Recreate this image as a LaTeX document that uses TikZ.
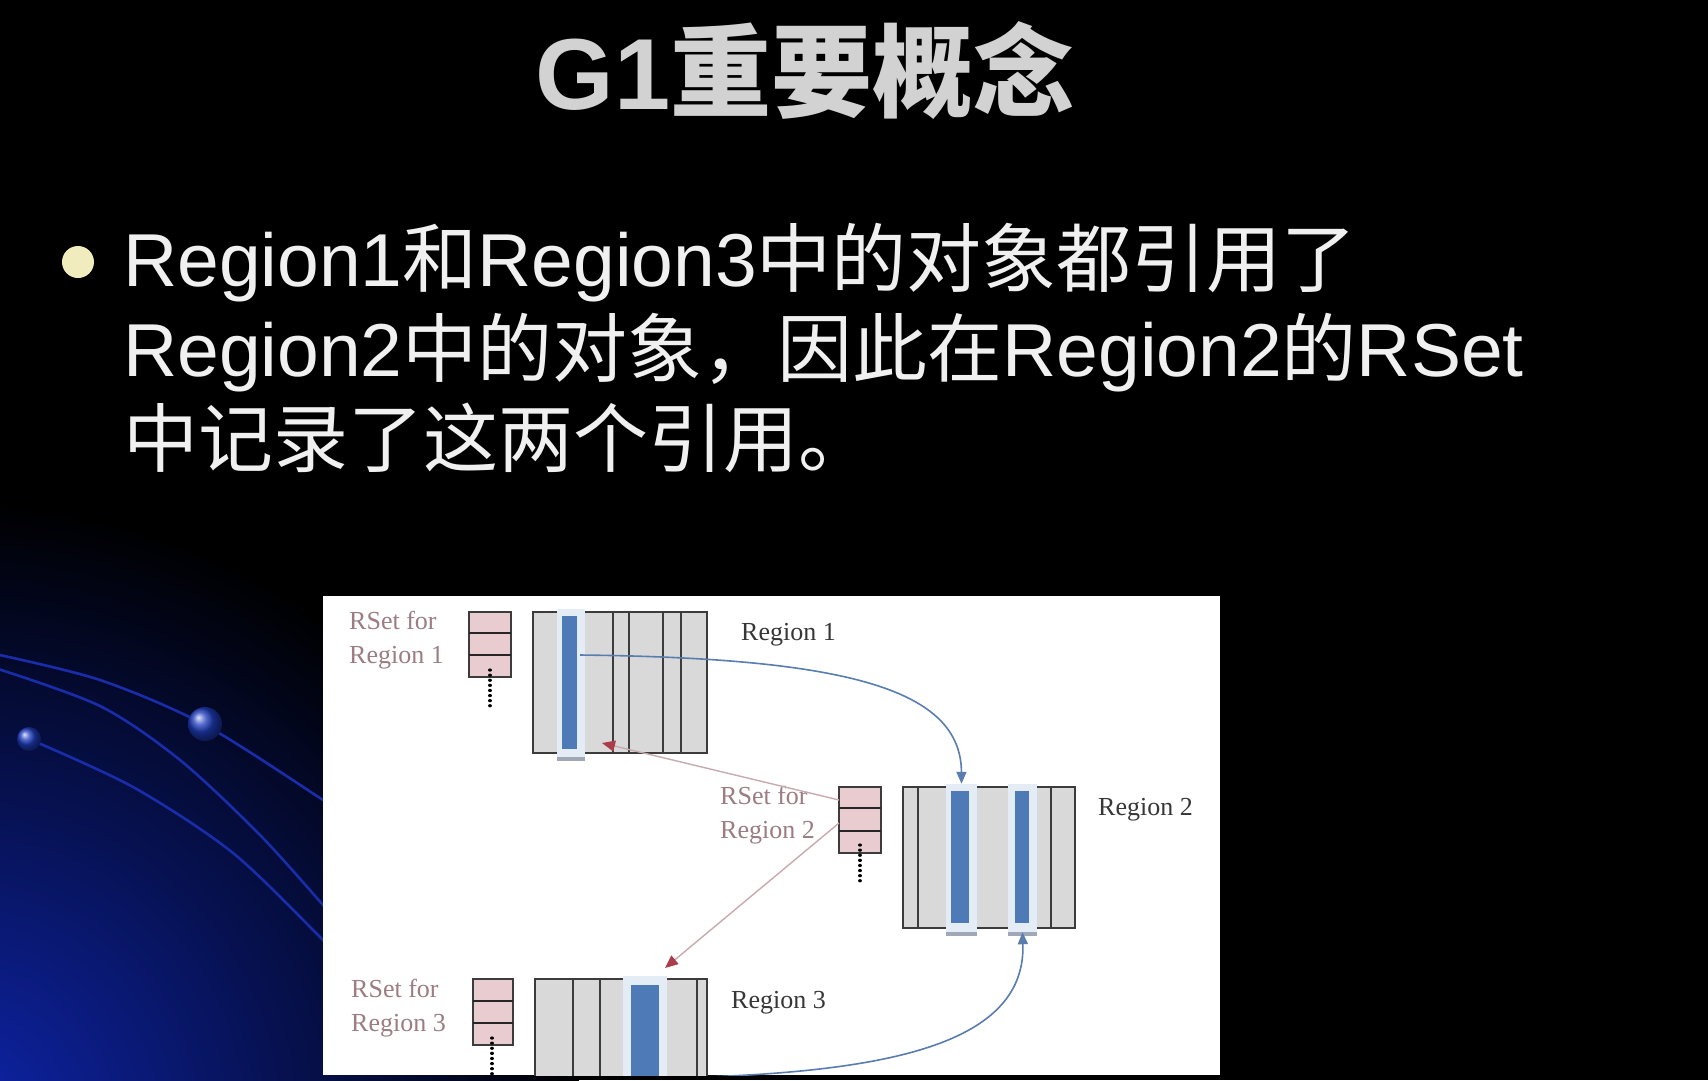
\documentclass[tikz,border=0pt]{standalone}
\usepackage{fontspec}
\setmainfont{Liberation Sans}
\newfontfamily\cjk{Noto Sans CJK SC}
\newfontfamily\serifrs{Liberation Serif}
\usetikzlibrary{arrows.meta}
\newcommand\zh[1]{{\cjk #1}}
\definecolor{barblue}{RGB}{79,122,184}
\definecolor{halofill}{RGB}{228,236,246}
\definecolor{stripc}{RGB}{160,168,184}
\definecolor{blkgray}{RGB}{217,217,217}
\definecolor{blkedge}{RGB}{60,60,60}
\definecolor{rspink}{RGB}{232,204,208}
\definecolor{rstextc}{RGB}{155,125,130}
\definecolor{arrowblue}{RGB}{90,125,175}
\definecolor{redline}{RGB}{200,170,175}
\definecolor{redtip}{RGB}{170,60,75}
\definecolor{glow}{RGB}{14,36,170}
\definecolor{lineblue}{RGB}{25,45,170}
\definecolor{dotblue}{RGB}{30,60,190}
\definecolor{silver}{RGB}{210,210,210}
\definecolor{bulletc}{RGB}{240,236,190}
\definecolor{labelc}{RGB}{55,55,55}
\tikzset{
  colline/.style={draw=blkedge, line width=1.6},
  halo/.style={rectangle, fill=halofill, draw=none, inner sep=0},
  bluebar/.style={rectangle, fill=barblue, draw=none, inner sep=0},
  rsbox/.style={rectangle, fill=rspink, draw=blkedge, line width=1.6, inner sep=0},
  divider/.style={draw=black!85, line width=2.6},
  dotline/.style={draw=black, line width=3.2, line cap=round, dash pattern=on 0.1pt off 5pt},
  rstext/.style={font=\serifrs\fontsize{26}{34}\selectfont, text=rstextc, align=left, inner sep=0},
  rlabel/.style={font=\serifrs\fontsize{26}{34}\selectfont, text=labelc, inner sep=0},
  bluearrow/.style={draw=arrowblue, line width=1.6, -{Triangle[length=12pt,width=10pt]}},
  redarrow/.style={draw=redline, line width=1.4, -{Triangle[length=13pt,width=11pt,color=redtip]}},
  bodytext/.style={font=\fontsize{75}{90}\selectfont, text=white!94!black, inner sep=0},
  decoline/.style={draw=lineblue, line width=2.6},
}
\begin{document}
\begin{tikzpicture}[x=1pt,y=-1pt]
\useasboundingbox (0,0) rectangle (1708,1080);
\fill[black] (0,0) rectangle (1708,1080);
\begin{scope}
  \clip (0,0) rectangle (1708,1080);
  \shade[inner color=glow, outer color=black] (-40,1120) circle (620);
  \draw[decoline] plot[smooth] coordinates {(-5,654) (100,680) (205,725) (323,800) (345,815)};
  \draw[decoline] plot[smooth] coordinates {(-5,668) (100,706) (180,760) (260,835) (323,905) (340,925)};
  \draw[decoline] plot[smooth] coordinates {(29,739) (133,787) (233,853) (323,940) (340,958)};
  \shade[ball color=dotblue] (205,724) circle (17);
  \shade[ball color=dotblue] (29,739) circle (12);
\end{scope}

% title
\node[font=\fontsize{101}{110}\selectfont\bfseries, text=silver, anchor=base, inner sep=0] (title) at (805,109) {G1\zh{重要概念}};

% bullet text
\fill[bulletc] (78,262) circle (16);
\node[bodytext, anchor=base west] (t1) at (123,286) {Region1\zh{和}Region3\zh{中的对象都引用了}};
\node[bodytext, anchor=base west] (t2) at (123,376) {Region2\zh{中的对象，因此在}Region2\zh{的}RSet};
\node[bodytext, anchor=base west] (t3) at (123,466) {\zh{中记录了这两个引用。}};

% panel
\fill[white] (323,596) rectangle (1220,1075);
\begin{scope}
\clip (323,596) rectangle (1220,1075);

% Region 1
\fill[blkgray] (533,612) rectangle (707,753);
\draw[colline] (533,612) rectangle (707,753);
\foreach \x in {613,629,663,681} \draw[colline] (\x,612) -- (\x,753);
\node[halo, minimum width=28, minimum height=148] (h1) at (571,683) {};
\fill[stripc] (557,757) rectangle (585,761);
\node[bluebar, minimum width=15, minimum height=133] (b1) at (569.5,682.5) {};

% Region 2
\fill[blkgray] (903,787) rectangle (1075,928);
\draw[colline] (903,787) rectangle (1075,928);
\foreach \x in {918,1051} \draw[colline] (\x,787) -- (\x,928);
\node[halo, minimum width=31, minimum height=148] (h2a) at (961.5,858) {};
\fill[stripc] (946,932) rectangle (977,936);
\node[bluebar, minimum width=18, minimum height=132] (b2a) at (960,857) {};
\node[halo, minimum width=29, minimum height=148] (h2b) at (1022.5,858) {};
\fill[stripc] (1008,932) rectangle (1037,936);
\node[bluebar, minimum width=14, minimum height=132] (b2b) at (1022,857) {};

% Region 3
\fill[blkgray] (535,979) rectangle (707,1090);
\draw[colline] (535,979) rectangle (707,1090);
\foreach \x in {573,600,697} \draw[colline] (\x,979) -- (\x,1090);
\node[halo, minimum width=44, minimum height=114] (h3) at (645,1033) {};
\node[bluebar, minimum width=28, minimum height=105] (b3) at (645,1037.5) {};

% RSet boxes
\node[rsbox, minimum width=42, minimum height=65] (rs1) at (490,644.5) {};
\draw[divider] (469,633) -- (511,633);
\draw[divider] (469,655) -- (511,655);
\draw[dotline] (490,670) -- (490,707);

\node[rsbox, minimum width=42, minimum height=66] (rs2) at (860,820) {};
\draw[divider] (839,808) -- (881,808);
\draw[divider] (839,831) -- (881,831);
\draw[dotline] (860,845) -- (860,883);

\node[rsbox, minimum width=40, minimum height=66] (rs3) at (493,1012) {};
\draw[divider] (473,1001) -- (513,1001);
\draw[divider] (473,1023) -- (513,1023);
\draw[dotline] (492,1038) -- (492,1080);

% labels
\node[rstext, anchor=west] (l1) at (349,640) {RSet for\\Region 1};
\node[rstext, anchor=west] (l2) at (720,815) {RSet for\\Region 2};
\node[rstext, anchor=west] (l3) at (351,1008) {RSet for\\Region 3};
\node[rlabel, anchor=west] (n1) at (741,635) {Region 1};
\node[rlabel, anchor=west] (n2) at (1098,810) {Region 2};
\node[rlabel, anchor=west] (n3) at (731,1003) {Region 3};

% connectors
\coordinate (a1s) at (580,655);
\draw[bluearrow] (a1s) .. controls (850,658) and (961,690) .. (h2a.north);
\coordinate (r2a) at (839,800);
\coordinate (r1t) at (602,743);
\draw[redarrow] (r2a) -- (r1t);
\coordinate (r2b) at (839,823);
\coordinate (r3t) at (665,968);
\draw[redarrow] (r2b) -- (r3t);
\coordinate (a4s) at (705,1077);
\draw[bluearrow] (a4s) .. controls (900,1070) and (1026,1040) .. (h2b.south);
\end{scope}
\end{tikzpicture}
\end{document}
